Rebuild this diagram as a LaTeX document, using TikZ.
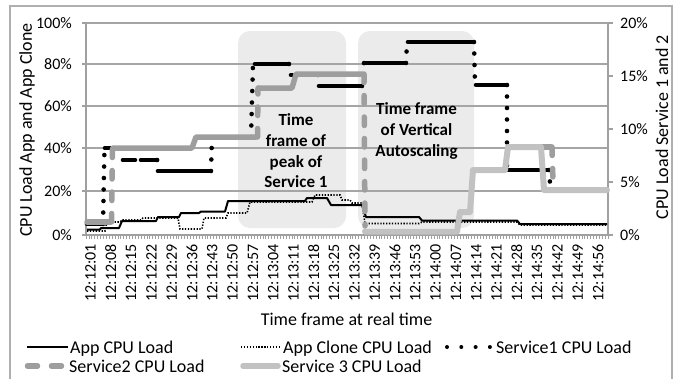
\documentclass[tikz,border=0pt]{standalone}
\usepackage{fontspec}
\setmainfont{Carlito}
\definecolor{sgray}{RGB}{158,158,158}
\definecolor{lgray}{RGB}{194,194,194}
\definecolor{boxfill}{RGB}{235,235,235}
\definecolor{gridc}{RGB}{165,165,165}
\definecolor{axisc}{RGB}{160,160,160}
\definecolor{framec}{RGB}{175,175,175}
\begin{document}
\begin{tikzpicture}[x=1pt,y=-1pt,
  gridln/.style={gridc,line width=1.1pt},
  axisln/.style={axisc,line width=1.1pt},
  xlab/.style={rotate=90,anchor=east,inner sep=0pt,font=\fontsize{16}{19}\selectfont},
  ylab/.style={anchor=east,inner sep=0pt,font=\fontsize{16}{19}\selectfont},
  rlab/.style={anchor=west,inner sep=0pt,font=\fontsize{16}{19}\selectfont},
  ttl/.style={inner sep=0pt,font=\fontsize{18}{21}\selectfont},
  legtxt/.style={anchor=base west,inner sep=0pt,font=\fontsize{18}{21}\selectfont},
  boxtxt/.style={align=center,inner sep=0pt,font=\fontsize{17}{20.7}\selectfont\bfseries},
  tframe/.style={fill=boxfill,rounded corners=12pt,draw=none},
  appln/.style={black,line width=2pt,line join=round},
  cloneln/.style={black,line width=1.6pt,dash pattern=on 1.3pt off 1.6pt},
  sonebar/.style={black,line width=4.6pt,line cap=round},
  sonedots/.style={black,line width=4.6pt,line cap=round,dash pattern=on 0pt off 11.5pt},
  stwobar/.style={sgray,line width=5.5pt,line cap=round,line join=round},
  stwodash/.style={sgray,line width=5.5pt,line cap=round,dash pattern=on 8.5pt off 13pt},
  sthree/.style={lgray,line width=6pt,line cap=round,line join=round}]
\useasboundingbox (0,0) rectangle (677,378);
\fill[white] (0,0) rectangle (677,378);
% chart frame
\draw[framec,line width=1.2pt] (10,390) -- (10,6) -- (672,6) -- (672,390);
% time-frame boxes
\fill[tframe] (238,31) rectangle (346,228);
\fill[tframe] (358,31) rectangle (474,228);
% gridlines
\foreach \gy in {23,64,106,148,191} \draw[gridln] (86,\gy) -- (608,\gy);
% axes
\draw[axisln] (86,23) -- (86,235) -- (608,235);
\draw[axisln] (608,23) -- (608,235);
\foreach \gy in {23,64,106,148,191,235} \draw[axisln] (82,\gy) -- (86,\gy);
\foreach \gy in {23,76,129,182,235} \draw[axisln] (608,\gy) -- (613,\gy);
\foreach \i in {0,...,180} \draw[axisc,line width=0.7pt] ({86+\i*2.9},235) -- ++(0,4);
% left tick labels
\node[ylab] (l100) at (72,23) {100\%};
\node[ylab] (l80) at (72,64) {80\%};
\node[ylab] (l60) at (72,106) {60\%};
\node[ylab] (l40) at (72,148) {40\%};
\node[ylab] (l20) at (72,191) {20\%};
\node[ylab] (l0) at (72,235) {0\%};
% right tick labels
\node[rlab] (r20) at (620,23) {20\%};
\node[rlab] (r15) at (620,76) {15\%};
\node[rlab] (r10) at (620,129) {10\%};
\node[rlab] (r5) at (620,182) {5\%};
\node[rlab] (r0) at (620,235) {0\%};
% x tick labels
\foreach \lab [count=\k from 0] in {12:12:01,12:12:08,12:12:15,12:12:22,12:12:29,12:12:36,12:12:43,12:12:50,12:12:57,12:13:04,12:13:11,12:13:18,12:13:25,12:13:32,12:13:39,12:13:46,12:13:53,12:14:00,12:14:07,12:14:14,12:14:21,12:14:28,12:14:35,12:14:42,12:14:49,12:14:56}
  \node[xlab] (x\k) at ({90.5+\k*20.3},244) {\lab};
% axis titles
\node[ttl,anchor=base] (xt) at (346.5,325) {Time frame at real time};
\node[ttl,rotate=90] (yt) at (27,130) {CPU Load App and App Clone};
\node[ttl,rotate=90] (rt) at (662,127) {CPU Load Service 1 and 2};
% App CPU Load
\draw[appln] (87,229.5) -- (100,229.5) -- (101,228) -- (119,228) -- (122,221) -- (156,221) -- (158,217) -- (179,217) -- (181,213) -- (199,213) -- (201,211.5) -- (225,211.5) -- (228,201) -- (305,201) -- (307,198) -- (327,198) -- (331,205) -- (362,205) -- (366,217) -- (419,217) -- (422,220.5) -- (517,220.5) -- (520,224) -- (607,224);
% App Clone CPU Load
\draw[cloneln] (87,231) -- (105,231) -- (107,222) -- (120,222) -- (122,220) -- (141,220) -- (143,218) -- (178,218) -- (180,229) -- (202,229) -- (204,218) -- (226,218) -- (228,213) -- (247,213) -- (250,202) -- (312,202) -- (315,195) -- (340,195) -- (342,200) -- (350,200) -- (352,203) -- (362,203) -- (365,223.5) -- (419,223.5) -- (422,222) -- (517,222) -- (520,225) -- (607,225);
% Service1 CPU Load
\draw[sonebar] (87,224) -- (102,224);
\draw[sonebar] (105,148) -- (120,148);
\draw[sonebar] (123,160) -- (135,160);
\draw[sonebar] (141,160) -- (157,160);
\draw[sonebar] (158,171) -- (210,171);
\draw[sonebar] (213,137) -- (250,137);
\draw[sonebar] (255,64) -- (288,64);
\draw[sonebar] (291,75) -- (317,75);
\draw[sonebar] (319,86) -- (360,86);
\draw[sonebar] (366,63) -- (405,63);
\draw[sonebar] (408,42) -- (473,42);
\draw[sonebar] (476,85) -- (506,85);
\draw[sonebar] (508,170) -- (548,170);
\draw[sonedots] (103,224) -- (104.5,148);
\draw[sonedots] (157,160) -- (158,171);
\draw[sonedots] (211,171) -- (212,137);
\draw[sonedots] (251,137) -- (253,64);
\draw[sonedots] (289,64) -- (290,75);
\draw[sonedots] (318,75) -- (319,86);
\draw[sonedots] (362,86) -- (364,63);
\draw[sonedots] (406,63) -- (407,42);
\draw[sonedots] (474,42) -- (475,85);
\draw[sonedots] (507,85) -- (507,170);
\draw[sonedots] (549,170) -- (550,183);
% Service2 CPU Load
\draw[stwobar] (87,222) -- (110,222);
\draw[stwobar] (113,148) -- (192,148) -- (196,137) -- (256,137);
\draw[stwobar] (259,88) -- (292,88) -- (296,74) -- (362,74);
\draw[stwobar] (540,147) -- (551,147);
\draw[stwodash] (111.5,222) -- (112.5,148);
\draw[stwodash] (257.5,137) -- (258,88);
\draw[stwodash] (364,74) -- (365,226);
\draw[stwodash] (552,147) -- (553,183);
% Service 3 CPU Load
\draw[sthree] (365,231.5) -- (457,231.5) -- (460,212) -- (470,212) -- (473,170) -- (505,170) -- (508,147) -- (541,147) -- (544,190) -- (607,190);
% box texts
\node[boxtxt] (b1) at (296,151) {Time\\frame of\\peak of\\Service 1};
\node[boxtxt] (b2) at (416.5,131) {Time frame\\of Vertical\\Autoscaling};
% legend
\draw[appln] (27,347) -- (68,347);
\node[legtxt] (g1) at (70,353.5) {App CPU Load};
\draw[cloneln] (241,347) -- (280,347);
\node[legtxt] (g2) at (283,353.5) {App Clone CPU Load};
\draw[sonedots,line width=4pt,dash pattern=on 0pt off 14.3pt] (447,347) -- (490,347);
\node[legtxt] (g3) at (496,353.5) {Service1 CPU Load};
\draw[stwodash,dash pattern=on 10pt off 14pt] (27.5,366) -- (64,366);
\node[legtxt] (g4) at (69,372.5) {Service2 CPU Load};
\draw[sthree,line width=5.5pt] (243,366) -- (278,366);
\node[legtxt] (g5) at (282,372.5) {Service 3 CPU Load};
\end{tikzpicture}
\end{document}
